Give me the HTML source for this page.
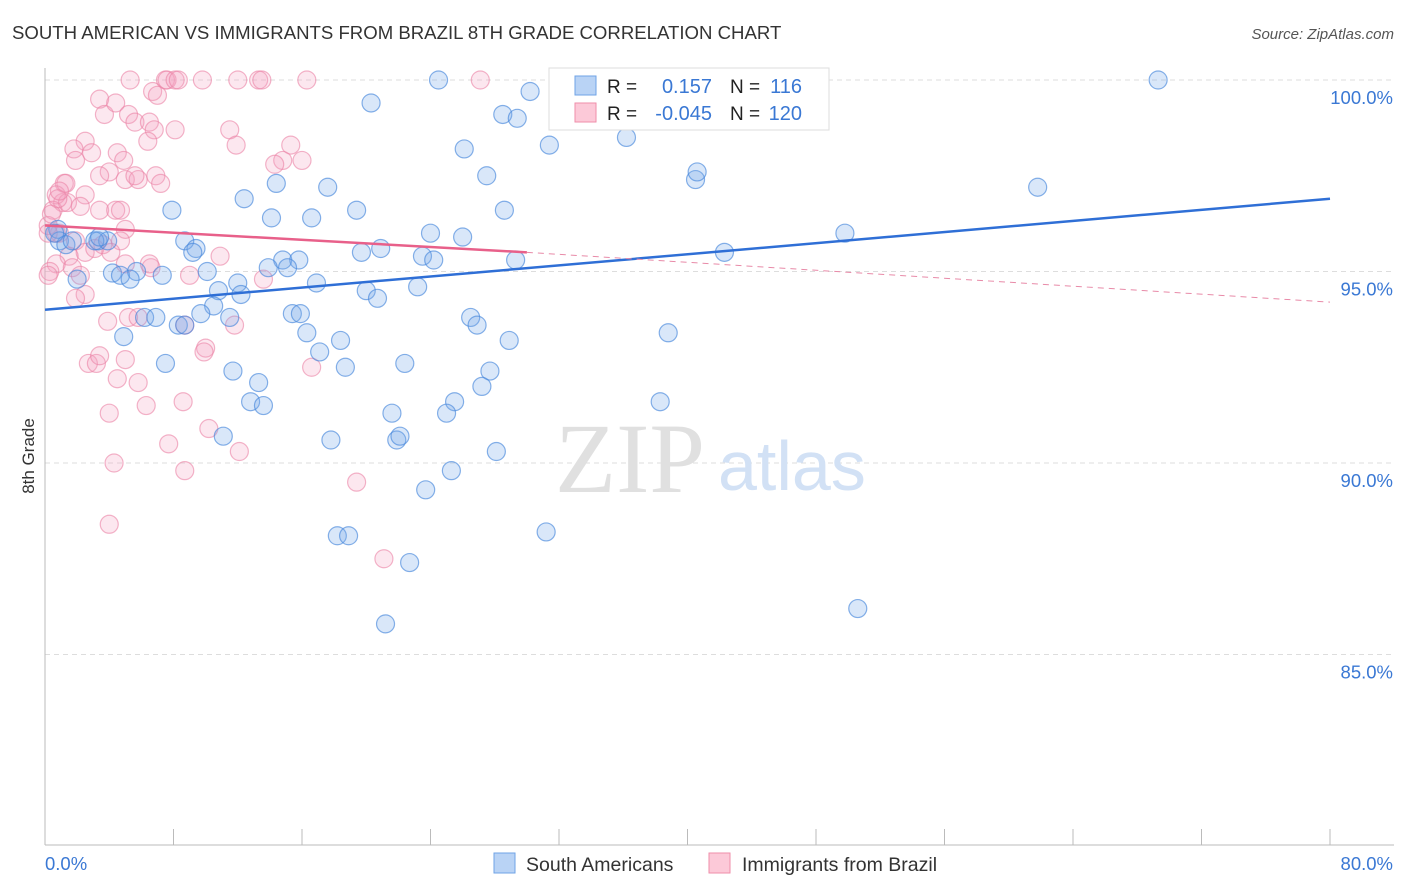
<!DOCTYPE html>
<html><head><meta charset="utf-8"><style>
body{margin:0;background:#fff;font-family:"Liberation Sans",sans-serif;}
svg{display:block}
</style></head><body>
<svg id="chart" width="1406" height="892">
<text x="12" y="39" font-size="18.6" fill="#333">SOUTH AMERICAN VS IMMIGRANTS FROM BRAZIL 8TH GRADE CORRELATION CHART</text>
<text x="1394" y="39" font-size="15" fill="#555" font-style="italic" text-anchor="end">Source: ZipAtlas.com</text>
<text x="34" y="456" font-size="17" fill="#333" transform="rotate(-90 34 456)" text-anchor="middle">8th Grade</text>
<g id="grid"></g>
<text x="555" y="492" font-size="100" fill="#e0e0e0" font-family="Liberation Serif,serif">ZIP</text>
<text x="718" y="490" font-size="70" fill="#d2e1f5">atlas</text>
<g id="pts"></g>
<g id="lines"></g>
<g>
<rect x="549" y="68" width="280" height="62" fill="#fff" stroke="#ddd"/>
<rect x="575" y="76" width="21" height="19" fill="#b9d3f5" stroke="#6fa3e6"/>
<rect x="575" y="103" width="21" height="19" fill="#fcc9d8" stroke="#ef8eaa"/>
<text x="607" y="93" font-size="19" fill="#222">R =</text><text x="712" y="93" font-size="20" fill="#3a78d4" text-anchor="end">0.157</text>
<text x="730" y="93" font-size="19" fill="#222">N =</text><text x="802" y="93" font-size="20" fill="#3a78d4" text-anchor="end">116</text>
<text x="607" y="120" font-size="19" fill="#222">R =</text><text x="712" y="120" font-size="20" fill="#3a78d4" text-anchor="end">-0.045</text>
<text x="730" y="120" font-size="19" fill="#222">N =</text><text x="802" y="120" font-size="20" fill="#3a78d4" text-anchor="end">120</text>
</g>
<g>
<rect x="494" y="853" width="21" height="20" fill="#b9d3f5" stroke="#6fa3e6"/>
<text x="526" y="871" font-size="19.5" fill="#333">South Americans</text>
<rect x="709" y="853" width="21" height="20" fill="#fcc9d8" stroke="#ef8eaa"/>
<text x="742" y="871" font-size="19.5" fill="#333">Immigrants from Brazil</text>
</g>
</svg>
<script>
const yTicks=[100,95,90,85];
const xLabels=["0.0%","80.0%"];
const blueX=[24.5,69.3,30.2,20.3,28.5,29.4,31.4,36.2,26.1,27.5,40.5,40.6,61.8,17.6,14.4,12.4,19.4,28.6,7.9,14.1,16.6,24.0,26.0,49.8,0.8,0.9,1.3,3.3,3.9,8.7,9.4,9.2,20.9,19.7,23.5,24.2,42.3,29.3,14.8,15.8,13.9,15.1,10.1,4.2,4.7,5.7,7.3,5.3,2.0,12.0,16.9,10.8,12.2,20.0,23.2,20.7,10.5,15.4,15.9,9.7,11.5,6.2,6.9,8.3,8.7,26.5,26.9,16.3,18.4,28.9,38.8,4.9,17.1,7.5,18.7,22.4,27.7,11.7,13.3,27.2,25.5,12.8,13.6,38.3,21.6,25.0,11.1,17.8,21.9,22.1,28.1,25.3,23.7,18.2,18.9,31.2,22.7,50.6,21.2,3.1,3.4,1.7,0.6];
const blueY=[100,100,99.7,99.4,99.1,99.0,98.3,98.5,98.2,97.5,97.4,97.6,97.2,97.2,97.3,96.9,96.6,96.6,96.6,96.4,96.4,96.0,95.9,96.0,96.1,95.8,95.7,95.8,95.8,95.8,95.6,95.5,95.6,95.5,95.4,95.3,95.5,95.3,95.3,95.3,95.1,95.1,95.0,94.96,94.9,95.0,94.9,94.8,94.8,94.7,94.7,94.5,94.4,94.5,94.6,94.3,94.1,93.9,93.9,93.9,93.8,93.8,93.8,93.6,93.6,93.8,93.6,93.4,93.2,93.2,93.4,93.3,92.9,92.6,92.5,92.6,92.4,92.4,92.1,92.0,91.6,91.6,91.5,91.6,91.3,91.3,90.7,90.6,90.6,90.7,90.3,89.8,89.3,88.1,88.1,88.2,87.4,86.2,85.8,95.8,95.9,95.8,96.0];
const pinkX=[5.3,7.5,7.6,8.1,8.3,9.8,12.0,13.3,13.5,16.3,27.1,6.7,7.0,3.4,3.7,4.4,5.2,5.6,6.5,6.8,6.4,8.1,11.5,11.9,15.3,14.8,16.0,14.3,2.5,1.8,2.9,4.5,4.9,5.0,5.8,5.6,6.9,7.2,4.0,1.2,1.1,2.5,0.7,0.5,1.4,2.2,3.4,4.4,4.7,5.0,0.7,0.9,1.9,2.5,3.1,3.6,4.7,1.5,0.7,0.3,0.2,1.7,2.2,5.0,6.6,4.1,6.5,9.0,10.9,13.6,2.5,1.9,3.9,5.2,5.8,8.7,11.8,10.0,9.9,16.6,2.7,3.2,3.4,5.0,4.5,5.8,8.6,6.3,4.0,10.2,7.7,12.1,4.3,8.7,19.4,4.0,21.1,0.2,0.2,0.4,0.8,1.3,3.4,1.9,0.9];
const pinkY=[100,100,100,100,100,100,100,100,100,100,100,99.7,99.6,99.5,99.1,99.4,99.1,98.9,98.9,98.7,98.4,98.7,98.7,98.3,98.3,97.9,97.9,97.8,98.4,98.2,98.1,98.1,97.9,97.4,97.4,97.5,97.5,97.3,97.6,97.3,96.8,97.0,97.0,96.6,96.8,96.7,96.6,96.6,96.6,96.1,96.0,96.0,95.8,95.5,95.6,95.7,95.8,95.4,95.2,95.0,94.9,95.1,94.9,95.2,95.1,95.5,95.2,94.9,95.4,94.8,94.4,94.3,93.7,93.8,93.8,93.6,93.6,93.0,92.9,92.5,92.6,92.6,92.8,92.7,92.2,92.1,91.6,91.5,91.3,90.9,90.5,90.3,90.0,89.8,89.5,88.4,87.5,96.2,96.0,96.5,96.9,97.3,97.5,97.9,97.1];
const blueLine=[[0,94.0],[80,96.9]];
const pinkSolid=[[0,96.2],[30,95.5]];
const pinkDash=[[30,95.5],[80,94.2]];
const NS="http://www.w3.org/2000/svg";
const sx=v=>45+v*16.0625, sy=v=>80+(100-v)*38.3;
function mk(t,a,p){const e=document.createElementNS(NS,t);for(const k in a)e.setAttribute(k,a[k]);p.appendChild(e);return e;}
const grid=document.getElementById('grid');
yTicks.forEach(t=>{
  const l=mk('line',{x1:45,x2:1394,y1:sy(t),y2:sy(t),stroke:'#ddd','stroke-dasharray':'5,4'},grid);
  
  
  const tx=mk('text',{x:1393,y:sy(t)+24,'font-size':18.5,fill:'#3a78d4','text-anchor':'end'},grid);
  tx.textContent=t.toFixed(1)+'%';
  
  
});
mk('line',{x1:45,x2:45,y1:68,y2:845,stroke:'#bbb'},grid);
mk('line',{x1:45,x2:1394,y1:845,y2:845,stroke:'#bbb'},grid);
for(let i=0;i<=10;i++){const x=sx(i*8);const t=mk('line',{x1:x,x2:x,y1:829,y2:845,stroke:'#bbb'},grid);}
[[0,45,'start'],[80,1393,'end']].forEach((d,i)=>{const t=mk('text',{x:d[1],y:870,'font-size':18.5,fill:'#3a78d4','text-anchor':d[2]},grid);t.textContent=xLabels[i];});
const pts=document.getElementById('pts');
pinkX.forEach((x,i)=>{const c=mk('circle',{cx:sx(x),cy:sy(pinkY[i]),r:9,fill:'rgba(245,160,190,0.25)',stroke:'rgba(235,130,165,0.6)','stroke-width':1.2},pts);

});
blueX.forEach((x,i)=>{const c=mk('circle',{cx:sx(x),cy:sy(blueY[i]),r:9,fill:'rgba(120,170,235,0.28)',stroke:'rgba(70,135,220,0.65)','stroke-width':1.2},pts);

});
const lines=document.getElementById('lines');
const bl=mk('line',{x1:sx(blueLine[0][0]),y1:sy(blueLine[0][1]),x2:sx(blueLine[1][0]),y2:sy(blueLine[1][1]),stroke:'#2f6fd6','stroke-width':2.5},lines);


const pl=mk('line',{x1:sx(pinkSolid[0][0]),y1:sy(pinkSolid[0][1]),x2:sx(pinkSolid[1][0]),y2:sy(pinkSolid[1][1]),stroke:'#e8608a','stroke-width':2.5},lines);


const pd=mk('line',{x1:sx(pinkDash[0][0]),y1:sy(pinkDash[0][1]),x2:sx(pinkDash[1][0]),y2:sy(pinkDash[1][1]),stroke:'#e88aa8','stroke-width':1,'stroke-dasharray':'6,5'},lines);


</script>
</body></html>
